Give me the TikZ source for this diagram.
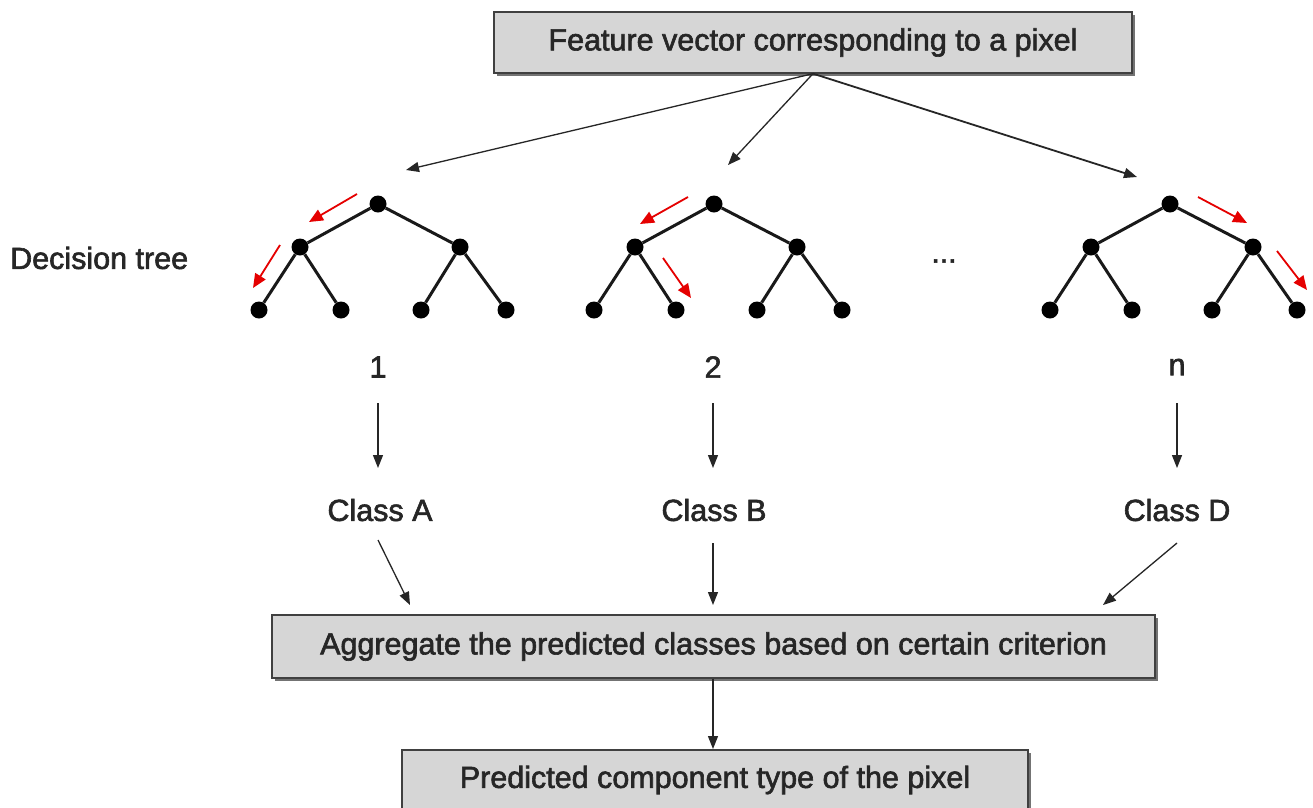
\documentclass[tikz,border=0pt]{standalone}
\usepackage{fontspec}
\setmainfont{Liberation Sans}[BoldFont=Liberation Sans, BoldFeatures={FakeBold=2}]
\usetikzlibrary{arrows.meta}
\begin{document}
\begin{tikzpicture}[x=1pt,y=-1pt,
  every node/.style={font=\fontsize{30.5}{36}\selectfont\bfseries, text=black!85},
  box/.style={draw=black!75, line width=1.3pt, fill=black!16, inner sep=0pt},
  dot/.style={circle, fill=black, inner sep=0pt, minimum size=17pt},
  edge/.style={line width=3pt, black!90},
  conn/.style={line width=1.3pt, black!85, -{Triangle[length=13pt,width=10pt]}},
  redarr/.style={line width=1.8pt, red!90!black, -{Triangle[length=14pt,width=12pt]}},
  lbl/.style={inner sep=2pt}
]
\clip (0,0) rectangle (1313,807);
\fill[white] (0,0) rectangle (1313,807);

% boxes with a slight shadow
\fill[black!55] (497,15) rectangle (1135,76);
\node[box, minimum width=638pt, minimum height=61pt] (top) at (813,42.5) {Feature vector corresponding to a pixel};
\fill[black!55] (275,618) rectangle (1158,681);
\node[box, minimum width=883pt, minimum height=63pt] (agg) at (713.5,646.5) {Aggregate the predicted classes based on certain criterion};
\fill[black!55] (405,753) rectangle (1031,830);
\node[box, minimum width=626pt, minimum height=60pt] (pred) at (715,780) {Predicted component type of the pixel};

% connectors from top box
\coordinate (e1) at (406,170);
\coordinate (e2) at (728,165);
\coordinate (e3) at (1137,177);
\draw[conn] (top.south) -- (e1);
\draw[conn] (top.south) -- (e2);
\draw[conn, line width=1.8pt] (top.south) -- (e3);

% label
\node[anchor=west, inner sep=0pt] (dt) at (10,258) {Decision tree};
\node[inner sep=0pt, font=\fontsize{30}{34}\selectfont\bfseries] (dots) at (944,261) {...};

% tree 1
\node[dot] (t1r) at (378,204) {};
\node[dot] (t1a) at (300,247) {};
\node[dot] (t1b) at (460,247) {};
\node[dot] (t1c) at (259,310) {};
\node[dot] (t1d) at (341,310) {};
\node[dot] (t1e) at (421,310) {};
\node[dot] (t1f) at (506,310) {};
\draw[edge] (t1r) -- (t1a); \draw[edge] (t1r) -- (t1b);
\draw[edge] (t1a) -- (t1c); \draw[edge] (t1a) -- (t1d);
\draw[edge] (t1b) -- (t1e); \draw[edge] (t1b) -- (t1f);
\draw[redarr] (357,194) -- (309,222);
\draw[redarr] (280,245) -- (253,288);

% tree 2
\node[dot] (t2r) at (714,204) {};
\node[dot] (t2a) at (635,247) {};
\node[dot] (t2b) at (797,247) {};
\node[dot] (t2c) at (594,310) {};
\node[dot] (t2d) at (676,310) {};
\node[dot] (t2e) at (757,310) {};
\node[dot] (t2f) at (842,310) {};
\draw[edge] (t2r) -- (t2a); \draw[edge] (t2r) -- (t2b);
\draw[edge] (t2a) -- (t2c); \draw[edge] (t2a) -- (t2d);
\draw[edge] (t2b) -- (t2e); \draw[edge] (t2b) -- (t2f);
\draw[redarr] (688,197) -- (640,224);
\draw[redarr] (663,258) -- (691,298);

% tree n
\node[dot] (t3r) at (1170,204) {};
\node[dot] (t3a) at (1091,247) {};
\node[dot] (t3b) at (1253,247) {};
\node[dot] (t3c) at (1050,310) {};
\node[dot] (t3d) at (1132,310) {};
\node[dot] (t3e) at (1212,310) {};
\node[dot] (t3f) at (1297,310) {};
\draw[edge] (t3r) -- (t3a); \draw[edge] (t3r) -- (t3b);
\draw[edge] (t3a) -- (t3c); \draw[edge] (t3a) -- (t3d);
\draw[edge] (t3b) -- (t3e); \draw[edge] (t3b) -- (t3f);
\draw[redarr] (1198,197) -- (1247,223);
\draw[redarr] (1277,251) -- (1307,290);

% numbers and classes
\node[lbl] (n1) at (378,367) {1};
\node[lbl] (n2) at (713,367) {2};
\node[lbl] (n3) at (1177,367) {n};
\node[lbl] (cA) at (380,510) {Class A};
\node[lbl] (cB) at (714,510) {Class B};
\node[lbl] (cD) at (1177,510) {Class D};

\coordinate (s1) at (378,403); \coordinate (f1) at (378,468);
\coordinate (s2) at (713,403); \coordinate (f2) at (713,468);
\coordinate (s3) at (1177,403); \coordinate (f3) at (1177,468);
\draw[conn] (s1) -- (f1);
\draw[conn] (s2) -- (f2);
\draw[conn] (s3) -- (f3);

\coordinate (g1) at (378,540); \coordinate (h1) at (410,605);
\coordinate (g2) at (713,543); \coordinate (h2) at (713,605);
\coordinate (g3) at (1177,543); \coordinate (h3) at (1103,605);
\draw[conn] (g1) -- (h1);
\draw[conn] (g2) -- (h2);
\draw[conn] (g3) -- (h3);

\coordinate (pa) at (713,749);
\draw[conn] (agg.south -| pa) -- (pa);
\end{tikzpicture}
\end{document}
